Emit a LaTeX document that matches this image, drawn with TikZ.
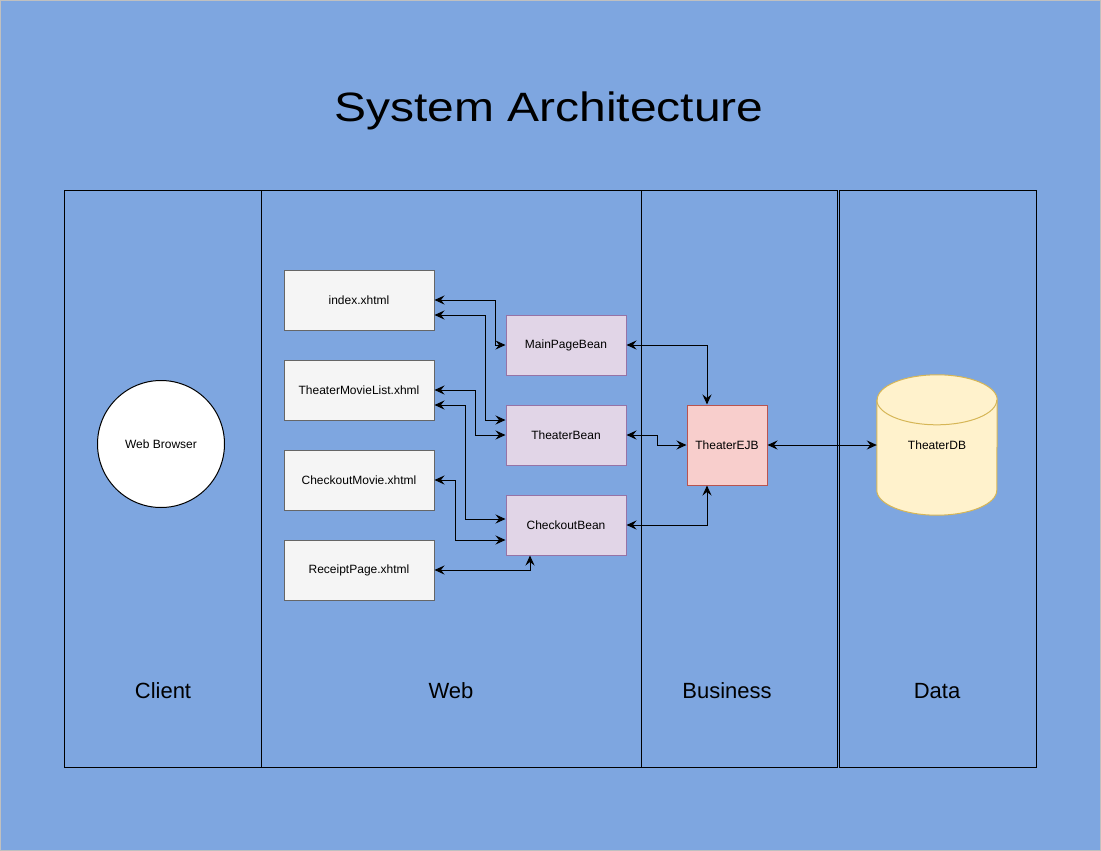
\documentclass[tikz,border=0pt]{standalone}
\usepackage{fontspec}
\setmainfont{Liberation Sans}
\newfontfamily\titlefont[FakeStretch=1.17]{Liberation Sans}
\usetikzlibrary{arrows.meta}
\definecolor{pagebg}{HTML}{7EA6E0}
\definecolor{pageline}{HTML}{C0C0C0}
\definecolor{viewfill}{HTML}{F5F5F5}
\definecolor{viewline}{HTML}{666666}
\definecolor{beanfill}{HTML}{E1D5E7}
\definecolor{beanline}{HTML}{9673A6}
\definecolor{ejbfill}{HTML}{F8CECC}
\definecolor{ejbline}{HTML}{B85450}
\definecolor{dbfill}{HTML}{FFF2CC}
\definecolor{dbline}{HTML}{D6B656}
\begin{document}
\begin{tikzpicture}[x=1pt,y=-1pt,
  lane/.style={rectangle, draw=black, line width=1pt, anchor=north west, inner sep=0pt, minimum height=577pt},
  lanelabel/.style={font=\fontsize{22}{26}\selectfont},
  small/.style={font=\fontsize{12}{14}\selectfont, inner sep=0pt},
  view/.style={small, rectangle, draw=viewline, fill=viewfill, line width=1pt, minimum width=150pt, minimum height=60pt},
  bean/.style={small, rectangle, draw=beanline, fill=beanfill, line width=1pt, minimum width=120pt, minimum height=60pt},
  tip/.tip={Stealth[length=10pt,width=9pt,inset=3.5pt]},
  link/.style={tip-tip, line width=1pt, black}]
\useasboundingbox (0,0) rectangle (1101,851);
\draw[pageline, fill=pagebg, line width=1pt] (0.5,0.5) rectangle (1100.5,850.5);
%%% title
\node (title) at (549,111) {\titlefont\fontsize{41}{48}\selectfont System Architecture};
%%% the four lanes
\node[lane, minimum width=197pt] (clientlane) at (64,190) {};
\node[lane, minimum width=380pt] (weblane) at (261,190) {};
\node[lane, minimum width=196pt] (businesslane) at (641,190) {};
\node[lane, minimum width=197pt] (datalane) at (839,190) {};
\node[lanelabel] (clientlabel) at (163,691) {Client};
\node[lanelabel] (weblabel) at (451,691) {Web};
\node[lanelabel] (businesslabel) at (727,691) {Business};
\node[lanelabel] (datalabel) at (937,691) {Data};
%%% client
\node[small, circle, draw=black, fill=white, line width=1pt, minimum size=127pt] (browser) at (161,444) {Web Browser};
%%% web pages
\node[view] (index) at (359,300) {index.xhtml};
\node[view] (movielist) at (359,390) {TheaterMovieList.xhml};
\node[view] (checkout) at (359,480) {CheckoutMovie.xhtml};
\node[view] (receipt) at (359,570) {ReceiptPage.xhtml};
%%% beans
\node[bean] (mainbean) at (566,345) {MainPageBean};
\node[bean] (theaterbean) at (566,435) {TheaterBean};
\node[bean] (checkoutbean) at (566,525) {CheckoutBean};
%%% business and data
\node[small, rectangle, draw=ejbline, fill=ejbfill, line width=1pt, minimum size=80pt] (ejb) at (727,445) {TheaterEJB};
\node[small, minimum width=120pt, minimum height=140pt] (db) at (937,445) {};
\filldraw[draw=dbline, fill=dbfill, line width=1pt]
  ([yshift=-25pt]db.north west) -- ([yshift=25pt]db.south west)
  arc[start angle=180, end angle=360, x radius=60pt, y radius=25pt]
  -- ([yshift=-25pt]db.north east)
  arc[start angle=0, end angle=180, x radius=60pt, y radius=25pt] -- cycle;
\draw[dbline, line width=1pt] ([yshift=-25pt]db.north west)
  arc[start angle=180, end angle=360, x radius=60pt, y radius=25pt];
\node[small] (dblabel) at (db.center) {TheaterDB};
%%% connectors
\draw[link] (index.east) -- ++(61,0) |- (mainbean.west);
\draw[link] ([yshift=-15pt]index.east) -- ++(51,0) |- ([yshift=15pt]theaterbean.west);
\draw[link] (movielist.east) -- ++(41,0) |- (theaterbean.west);
\draw[link] ([yshift=-15pt]movielist.east) -- ++(31,0) |- ([yshift=6pt]checkoutbean.west);
\draw[link] (checkout.east) -- ++(21,0) |- ([yshift=-15pt]checkoutbean.west);
\draw[link] (receipt.east) -| ([xshift=-36pt]checkoutbean.south);
\draw[link] (mainbean.east) -| ([xshift=-20pt]ejb.north);
\draw[link] (theaterbean.east) -- ++(31,0) |- (ejb.west);
\draw[link] (checkoutbean.east) -| ([xshift=-20pt]ejb.south);
\draw[link] (ejb.east) -- (db.west);
\end{tikzpicture}
\end{document}
